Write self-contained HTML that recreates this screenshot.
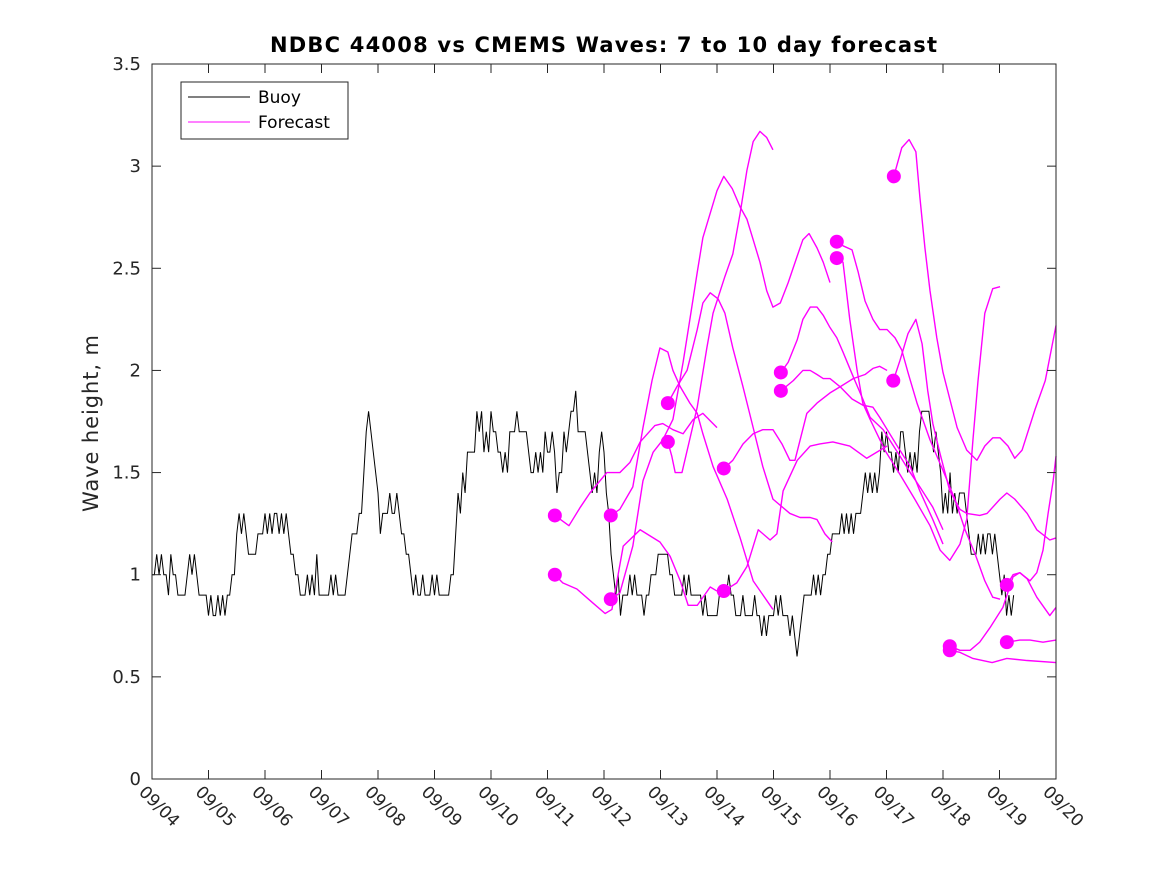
<!DOCTYPE html>
<html><head><meta charset="utf-8"><style>
html,body{margin:0;padding:0;background:#fff;}
svg{display:block;font-family:"DejaVu Sans","Liberation Sans",sans-serif;}
</style></head><body>
<svg id="chart" width="1167" height="875" viewBox="0 0 1167 875" xmlns="http://www.w3.org/2000/svg">
<rect x="0" y="0" width="1167" height="875" fill="#fff"/>
<text x="270" y="52" textLength="667" lengthAdjust="spacing" font-size="21" font-weight="bold" fill="#000">NDBC 44008 vs CMEMS Waves: 7 to 10 day forecast</text>
<text transform="translate(98,512) rotate(-90)" textLength="177" lengthAdjust="spacing" font-size="21" fill="#262626">Wave height, m</text>
<g id="plot"></g>
<rect x="152" y="64" width="904" height="715" fill="none" stroke="#262626" stroke-width="1"/>
<g id="ticks"></g>
<g>
<rect x="181" y="82" width="167" height="57" fill="#fff" stroke="#262626" stroke-width="1"/>
<g>
<line x1="188" y1="97" x2="250" y2="97" stroke="#000" stroke-width="1"/>
<text x="258" y="103" font-size="17" fill="#000">Buoy</text>
</g>
<g>
<line x1="188" y1="122" x2="250" y2="122" stroke="#ff00ff" stroke-width="1"/>
<text x="258" y="128" font-size="17" fill="#000">Forecast</text>
</g>
</g>
</svg>
<script>
const xTickLabels = ["09/04","09/05","09/06","09/07","09/08","09/09","09/10","09/11","09/12","09/13","09/14","09/15","09/16","09/17","09/18","09/19","09/20"];
const yTickValues = [0,0.5,1,1.5,2,2.5,3,3.5];
const yTickLabels = ["0","0.5","1","1.5","2","2.5","3","3.5"];
// buoy wave height, tenths of metre, hourly from 09/04 00:00
const buoyTenths = [
10,10,11,10,11,10,10,9,11,10,10,
9,9,9,9,10,11,10,11,10,9,9,9,9,
8,9,8,8,9,8,9,8,9,9,10,10,
12,13,12,13,12,11,11,11,11,12,12,12,
13,12,13,12,13,13,12,13,12,13,12,
11,11,10,10,9,9,9,10,9,10,9,11,9,
9,9,9,9,10,9,10,9,9,9,9,10,
11,12,12,12,13,13,15,17,18,17,16,15,14,12,
13,13,13,14,13,13,14,13,12,12,11,11,10,9,
10,9,9,10,9,9,9,10,9,10,9,9,9,9,9,
10,10,12,14,13,15,14,16,16,16,16,
18,17,18,16,17,16,18,17,17,16,16,15,16,15,
17,17,17,18,17,17,17,17,16,15,15,16,15,16,15,17,16,
16,17,16,14,15,15,17,16,17,18,18,19,17,17,17,17,16,
15,14,15,14,16,17,16,14,13,11,10,9,10,8,
9,9,9,10,9,10,9,9,9,8,9,9,10,10,10,
11,11,11,11,11,10,10,9,9,9,9,10,9,10,9,9,9,9,9,8,9,8,
8,8,8,8,9,9,9,9,10,9,9,8,8,8,9,8,8,8,8,9,8,8,
7,8,7,8,8,8,9,8,9,8,8,8,7,8,7,6,7,8,
9,9,9,9,10,9,10,9,10,10,11,11,12,
12,12,12,13,12,13,12,13,12,13,13,
13,14,15,14,15,14,15,14,15,17,16,17,16,16,15,16,15,17,17,
16,15,16,15,16,15,17,18,18,18,18,17,16,17,16,15,13,
14,13,15,13,14,13,14,14,14,13,12,11,11,11,
12,11,12,11,12,12,11,12,11,10,9,10,8,9,8,9
];
// forecast times (days since 09/04 00:00) and wave heights (m)
const f1Days=[7.13,7.38,7.58,7.75,8.05,8.28,8.46,8.64,8.90,9.04,9.22,9.40,9.58,9.75,10.0];
const f1Vals=[1.29,1.24,1.33,1.40,1.50,1.50,1.55,1.65,1.73,1.74,1.71,1.69,1.76,1.79,1.72];
const f2Days=[7.13,7.27,7.52,7.81,8.02,8.14,8.34,8.64,8.99,9.17,9.35,9.49,9.65,9.88,10.0];
const f2Vals=[1.0,0.96,0.93,0.86,0.81,0.83,1.14,1.22,1.16,1.09,0.97,0.85,0.85,0.94,0.92];
const f3Days=[8.12,8.28,8.51,8.69,8.85,8.99,9.13,9.22,9.35,9.52,9.65,9.75,9.93,10.18,10.41,10.64,10.99];
const f3Vals=[1.29,1.32,1.43,1.72,1.95,2.11,2.09,2.00,1.92,1.84,1.79,1.69,1.53,1.37,1.18,0.97,0.83];
const f4Days=[8.12,8.28,8.51,8.69,8.87,9.04,9.22,9.40,9.52,9.65,9.75,10.0,10.12,10.27,10.41,10.53,10.64,10.76,10.88,10.99,11.12,11.26,11.42,11.52,11.63,11.77,11.88,12.0];
const f4Vals=[0.88,0.91,1.14,1.46,1.60,1.66,1.76,2.04,2.25,2.48,2.65,2.88,2.95,2.89,2.80,2.74,2.64,2.53,2.39,2.31,2.33,2.43,2.56,2.64,2.67,2.60,2.53,2.43];
const f5Days=[9.13,9.20,9.26,9.38,9.49,9.65,9.82,9.93,10.14,10.28,10.41,10.53,10.64,10.76,10.88,10.99];
const f5Vals=[1.65,1.58,1.50,1.50,1.63,1.82,2.11,2.28,2.46,2.57,2.77,2.98,3.12,3.17,3.14,3.08];
const f6Days=[9.13,9.29,9.47,9.65,9.75,9.88,10.02,10.14,10.28,10.46,10.64,10.81,10.99,11.29,11.47,11.65,11.77,11.91,12.04];
const f6Vals=[1.84,1.92,2.00,2.20,2.33,2.38,2.35,2.28,2.11,1.92,1.72,1.53,1.37,1.30,1.28,1.28,1.27,1.20,1.16];
const f7Days=[10.12,10.28,10.46,10.64,10.81,10.99,11.15,11.29,11.38,11.59,11.77,12.0,12.18,12.41,12.62,12.76,12.88,13.01];
const f7Vals=[1.52,1.56,1.64,1.69,1.71,1.71,1.64,1.56,1.56,1.79,1.84,1.89,1.92,1.96,1.98,2.01,2.02,2.00];
const f8Days=[10.12,10.35,10.53,10.73,10.94,11.06,11.17,11.42,11.65,11.82,12.05,12.35,12.65,12.83,13.01];
const f8Vals=[0.92,0.96,1.04,1.22,1.17,1.20,1.41,1.56,1.63,1.64,1.65,1.63,1.57,1.60,1.63];
const f9Days=[11.13,11.26,11.42,11.52,11.65,11.77,11.88,12.0,12.12,12.23,12.41,12.58,12.71,12.94,13.24,13.42,13.59,13.82,14.0];
const f9Vals=[1.99,2.04,2.15,2.25,2.31,2.31,2.27,2.21,2.16,2.09,1.97,1.86,1.77,1.71,1.58,1.50,1.43,1.33,1.22];
const f10Days=[11.13,11.35,11.52,11.65,11.77,11.88,12.0,12.18,12.39,12.58,12.76,12.88,13.19,13.42,13.59,13.82,14.0];
const f10Vals=[1.90,1.95,2.00,2.00,1.98,1.96,1.96,1.92,1.86,1.83,1.82,1.77,1.63,1.53,1.41,1.27,1.15];
const f11Days=[12.12,12.23,12.39,12.50,12.62,12.76,12.88,13.01,13.15,13.27,13.38,13.54,13.77,14.0,14.21,14.39,14.57,14.74,14.88,15.01];
const f11Vals=[2.63,2.61,2.59,2.48,2.34,2.25,2.20,2.20,2.16,2.10,1.99,1.84,1.66,1.51,1.37,1.22,1.10,0.97,0.89,0.88];
const f12Days=[12.12,12.23,12.35,12.48,12.58,12.71,12.97,13.24,13.50,13.77,13.95,14.12,14.30,14.42,14.53,14.62,14.74,14.88,15.01];
const f12Vals=[2.55,2.53,2.25,2.00,1.84,1.76,1.61,1.49,1.37,1.24,1.12,1.07,1.15,1.27,1.66,1.95,2.28,2.40,2.41];
const f13Days=[13.13,13.27,13.40,13.52,13.59,13.68,13.77,13.89,14.0,14.25,14.42,14.60,14.74,14.88,15.01,15.15,15.27,15.40,15.63,15.81,16.0];
const f13Vals=[2.95,3.09,3.13,3.07,2.85,2.60,2.39,2.16,1.99,1.72,1.61,1.56,1.63,1.67,1.67,1.63,1.57,1.61,1.81,1.95,2.22];
const f14Days=[13.12,13.24,13.38,13.52,13.63,13.73,13.82,13.95,14.12,14.30,14.42,14.65,14.78,15.01,15.13,15.27,15.49,15.66,15.89,16.0];
const f14Vals=[1.95,2.05,2.18,2.25,2.13,1.90,1.74,1.59,1.41,1.32,1.30,1.29,1.30,1.37,1.40,1.37,1.30,1.22,1.17,1.18];
const f15Days=[14.12,14.30,14.48,14.65,14.83,15.06,15.24,15.36,15.54,15.66,15.77,15.86,15.95,16.0];
const f15Vals=[0.65,0.63,0.63,0.67,0.74,0.84,0.99,1.01,0.97,1.01,1.12,1.30,1.46,1.58];
const f16Days=[14.12,14.30,14.53,14.87,15.13,15.49,16.0];
const f16Vals=[0.63,0.62,0.59,0.57,0.59,0.58,0.57];
const f17Days=[15.13,15.24,15.36,15.49,15.66,15.89,16.0];
const f17Vals=[0.95,1.00,1.01,0.98,0.89,0.80,0.84];
const f18Days=[15.13,15.36,15.54,15.77,16.0];
const f18Vals=[0.67,0.68,0.68,0.67,0.68];

const forecastDays=[f1Days,f2Days,f3Days,f4Days,f5Days,f6Days,f7Days,f8Days,f9Days,f10Days,f11Days,f12Days,f13Days,f14Days,f15Days,f16Days,f17Days,f18Days];
const forecastVals=[f1Vals,f2Vals,f3Vals,f4Vals,f5Vals,f6Vals,f7Vals,f8Vals,f9Vals,f10Vals,f11Vals,f12Vals,f13Vals,f14Vals,f15Vals,f16Vals,f17Vals,f18Vals];

const X0=152, X1=1056, Y0=779, Y1=64, DMAX=16, VMAX=3.5;
function xs(d){return X0+(X1-X0)*d/DMAX;}
function ys(v){return Y0-(Y0-Y1)*v/VMAX;}
const NS="http://www.w3.org/2000/svg";
const plot=document.getElementById('plot');
const ticks=document.getElementById('ticks');
function mk(tag,attrs,parent){const e=document.createElementNS(NS,tag);for(const k in attrs)e.setAttribute(k,attrs[k]);parent.appendChild(e);return e;}

xTickLabels.forEach((lab,i)=>{
  const x=xs(i);
  const t1=mk('line',{x1:x,y1:Y0,x2:x,y2:Y0-9,stroke:'#262626','stroke-width':1},ticks);
  
  
  const t2=mk('line',{x1:x,y1:Y1,x2:x,y2:Y1+9,stroke:'#262626','stroke-width':1},ticks);
  
  
  const tx=mk('text',{transform:`translate(${x-14},${Y0+14}) rotate(45)`,'font-size':17,fill:'#262626'},ticks);
  tx.textContent=lab;
  
  
});
yTickValues.forEach((v,i)=>{
  const y=ys(v);
  const t1=mk('line',{x1:X0,y1:y,x2:X0+9,y2:y,stroke:'#262626','stroke-width':1},ticks);
  
  
  const t2=mk('line',{x1:X1,y1:y,x2:X1-9,y2:y,stroke:'#262626','stroke-width':1},ticks);
  
  
  const tx=mk('text',{x:141,y:y+6,'text-anchor':'end','font-size':18,fill:'#262626'},ticks);
  tx.textContent=yTickLabels[i];
  
  
});

let bp=buoyTenths.map((t,h)=>xs(h/24).toFixed(2)+','+ys(t/10).toFixed(2)).join(' ');
const buoy=mk('polyline',{points:bp,fill:'none',stroke:'#000','stroke-width':1,'stroke-linejoin':'miter'},plot);



forecastDays.forEach((days,i)=>{
  const vals=forecastVals[i];
  const pts=days.map((d,j)=>xs(d).toFixed(2)+','+ys(vals[j]).toFixed(2)).join(' ');
  const pl=mk('polyline',{points:pts,fill:'none',stroke:'#ff00ff','stroke-width':1.4,'stroke-linejoin':'round'},plot);
  
  
  const c=mk('circle',{cx:xs(days[0]),cy:ys(vals[0]),r:7,fill:'#ff00ff'},plot);
  
  
});
</script>
</body></html>
